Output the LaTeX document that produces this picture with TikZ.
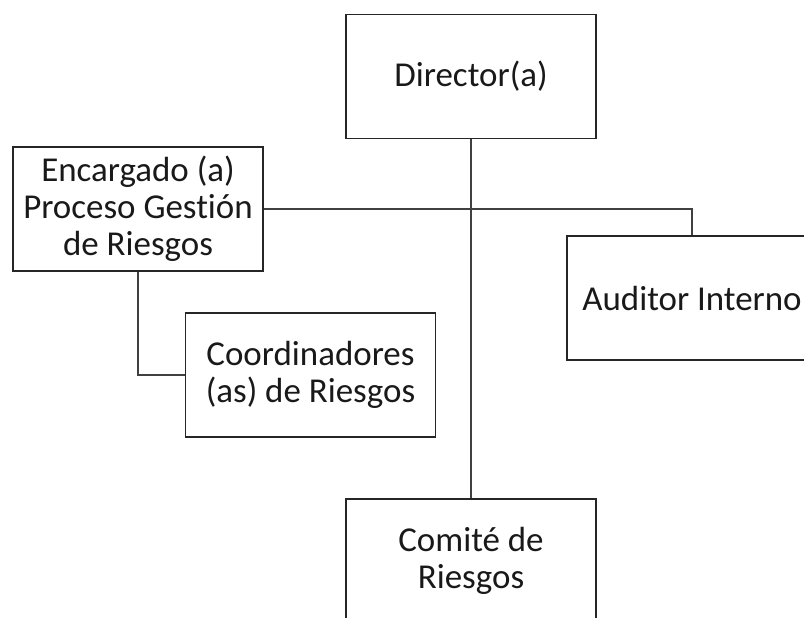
\documentclass[tikz,border=0pt]{standalone}
\usepackage{fontspec}
\setmainfont{Carlito}[Ligatures=NoCommon]
\begin{document}
\begin{tikzpicture}[x=0.75pt,y=-0.75pt,
  orgbox/.style={draw=black!85,line width=1.4pt,fill=white,inner sep=0pt,
    minimum width=187.5pt,minimum height=93pt,align=center,
    font=\fontsize{26.2}{27.75}\selectfont,text=black!90},
  link/.style={draw=black!75,line width=1.1pt}]
\useasboundingbox (0,0) rectangle (804,618);
\clip (0,0) rectangle (804,618);
\node[orgbox] (dir) at (471,76.5) {Director(a)};
\node[orgbox] (enc) at (138,209) {Encargado (a)\\Proceso Gestión\\de Riesgos};
\node[orgbox] (coo) at (310.5,375) {Coordinadores\\(as) de Riesgos};
\node[orgbox] (aud) at (692,298) {Auditor Interno};
\node[orgbox] (com) at (471,561) {Comité de\\Riesgos};
\draw[link] (dir.south) -- (com.north);
\draw[link] (enc.east) -| (aud.north);
\draw[link] (enc.south) |- (coo.west);
\end{tikzpicture}
\end{document}
